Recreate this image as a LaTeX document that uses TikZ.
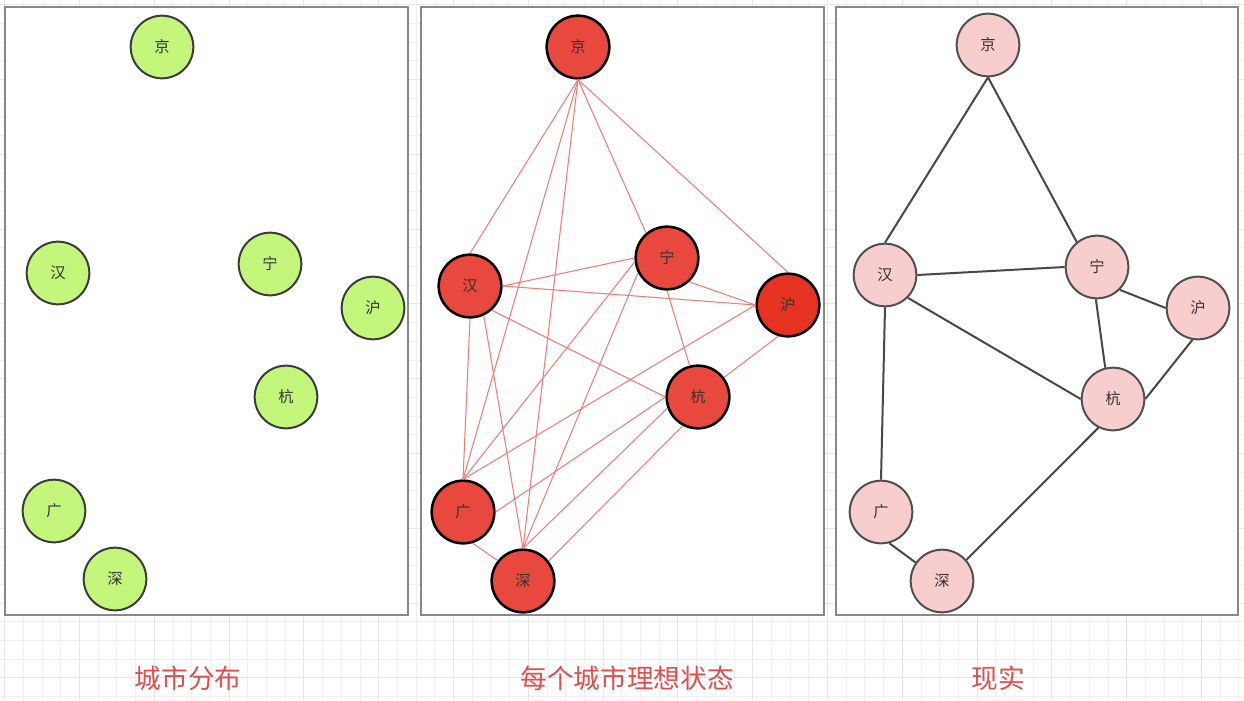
\documentclass[tikz,border=0pt]{standalone}
\usepackage{fontspec}
\newfontfamily\cjk{Noto Sans CJK SC}
\definecolor{gridminor}{RGB}{240,240,240}
\definecolor{gridmajor}{RGB}{230,230,230}
\definecolor{panelborder}{RGB}{136,136,136}
\definecolor{greenfill}{RGB}{196,246,124}
\definecolor{greenline}{RGB}{60,60,60}
\definecolor{redfill}{RGB}{233,72,62}
\definecolor{redfillb}{RGB}{230,50,32}
\definecolor{pinkfill}{RGB}{247,206,205}
\definecolor{pinkline}{RGB}{80,80,80}
\definecolor{idealedge}{RGB}{234,128,124}
\definecolor{realedge}{RGB}{72,72,72}
\definecolor{labelred}{RGB}{220,80,80}
\begin{document}
\begin{tikzpicture}[x=0.75pt,y=-0.75pt,
  city/.style={circle, minimum size=47pt, inner sep=0pt, line width=1.5pt,
    font=\cjk\fontsize{11.5}{13}\selectfont, text=black!80},
  greencity/.style={city, fill=greenfill, draw=greenline},
  redcity/.style={city, fill=redfill, draw=black, line width=1.9pt},
  pinkcity/.style={city, fill=pinkfill, draw=pinkline},
  panel/.style={draw=panelborder, fill=white, line width=1.5pt},
  ideal/.style={draw=idealedge, line width=0.8pt},
  real/.style={draw=realedge, line width=1.5pt},
  caption/.style={font=\cjk\fontsize{20}{24}\selectfont, text=labelred}]
\useasboundingbox (0,0) rectangle (1244,700);
\fill[white] (0,0) rectangle (1244,700);
% background grid
\foreach \i in {0,...,66} {
  \pgfmathsetmacro{\gx}{4.7+18.7*\i}
  \draw[gridminor, line width=0.75pt] (\gx,0) -- (\gx,700);
}
\foreach \i in {0,...,37} {
  \pgfmathsetmacro{\gy}{4.7+18.7*\i}
  \draw[gridminor, line width=0.75pt] (0,\gy) -- (1244,\gy);
}
\foreach \i in {0,4,...,64} {
  \pgfmathsetmacro{\gx}{4.7+18.7*\i}
  \draw[gridmajor, line width=0.75pt] (\gx,0) -- (\gx,700);
}
\foreach \i in {0,4,...,36} {
  \pgfmathsetmacro{\gy}{4.7+18.7*\i}
  \draw[gridmajor, line width=0.75pt] (0,\gy) -- (1244,\gy);
}
% panels
\draw[panel] (5,7) rectangle (408,615);
\draw[panel] (421,7) rectangle (824,615);
\draw[panel] (836,7) rectangle (1238,615);

% left panel: city distribution
\node[greencity] (Lj)  at (162,47)  {京};
\node[greencity] (Lh)  at (58,273)  {汉};
\node[greencity] (Ln)  at (270,264) {宁};
\node[greencity] (Lhu) at (373,308) {沪};
\node[greencity] (Lhz) at (286,397) {杭};
\node[greencity] (Lg)  at (54,511)  {广};
\node[greencity] (Ls)  at (115,579) {深};

% middle panel: ideal
\node[redcity] (Mj)  at (578,47)  {京};
\node[redcity] (Mh)  at (470,286) {汉};
\node[redcity] (Mn)  at (667,258) {宁};
\node[redcity, fill=redfillb] (Mhu) at (788,305) {沪};
\node[redcity] (Mhz) at (698,397) {杭};
\node[redcity] (Mg)  at (463,512) {广};
\node[redcity] (Ms)  at (523,581) {深};
\draw[ideal] (Mj.-90) -- (Mh.90);
\draw[ideal] (Mj.-90) -- (Mg.90);
\draw[ideal] (Mj.-90) -- (Ms.90);
\draw[ideal] (Mj.-90) -- (Mn.130);
\draw[ideal] (Mj.-90) -- (Mhu.90);
\draw[ideal] (Mh.0) -- (Mn.180);
\draw[ideal] (Mh.0) -- (Mhu.180);
\draw[ideal] (Mh.-48) -- (Mhz.180);
\draw[ideal] (Mh.-90) -- (Mg.90);
\draw[ideal] (Mh.-65) -- (Ms.90);
\draw[ideal] (Mn.187) -- (Mg.90);
\draw[ideal] (Mn.207) -- (Ms.90);
\draw[ideal] (Mn.-90) -- (Mhz.105);
\draw[ideal] (Mn.-47) -- (Mhu.180);
\draw[ideal] (Mhu.180) -- (Mg.90);
\draw[ideal] (Mhu.-107) -- (Mhz.37);
\draw[ideal] (Mhz.180) -- (Mg.0);
\draw[ideal] (Mhz.200) -- (Ms.90);
\draw[ideal] (Mhz.242) -- (Ms.38);
\draw[ideal] (Mg.-73) -- (Ms.141);

% right panel: reality
\node[pinkcity] (Rj)  at (988,45)   {京};
\node[pinkcity] (Rh)  at (885,275)  {汉};
\node[pinkcity] (Rn)  at (1097,267) {宁};
\node[pinkcity] (Rhu) at (1198,308) {沪};
\node[pinkcity] (Rhz) at (1113,399) {杭};
\node[pinkcity] (Rg)  at (881,512)  {广};
\node[pinkcity] (Rs)  at (942,581)  {深};
\draw[real] (Rj.-90) -- (Rh.90);
\draw[real] (Rj.-90) -- (Rn.129);
\draw[real] (Rh.0) -- (Rn.180);
\draw[real] (Rh.-45) -- (Rhz.180);
\draw[real] (Rh.-90) -- (Rg.90);
\draw[real] (Rn.-92) -- (Rhz.104);
\draw[real] (Rn.-45) -- (Rhu.180);
\draw[real] (Rhu.-100) -- (Rhz.0);
\draw[real] (Rhz.-117) -- (Rs.41);
\draw[real] (Rg.-75) -- (Rs.145);

% captions
\node[caption] (cap1) at (188,678) {城市分布};
\node[caption] (cap2) at (627,678) {每个城市理想状态};
\node[caption] (cap3) at (998,678) {现实};
\end{tikzpicture}
\end{document}
